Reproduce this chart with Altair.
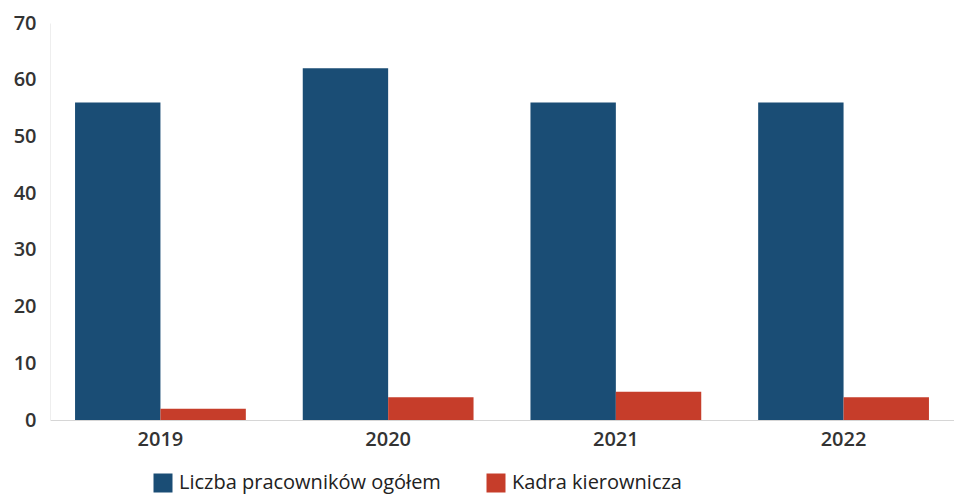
import altair as alt
import pandas as pd

years = ["2019", "2020", "2021", "2022"]
series = ["Liczba pracowników ogółem", "Kadra kierownicza"]
total = [56, 62, 56, 56]
managers = [2, 4, 5, 4]
colors = ["#1a4d75", "#c63d2a"]

rows = []
for i, y in enumerate(years):
    rows.append({"year": y, "series": series[0], "value": total[i], "order": 0})
    rows.append({"year": y, "series": series[1], "value": managers[i], "order": 1})
df = pd.DataFrame(rows)

font = "Open Sans"

chart = alt.Chart(df).mark_bar().encode(
    x=alt.X("year:N", title=None, sort=years,
            scale=alt.Scale(paddingInner=0.25, paddingOuter=0.11),
            axis=alt.Axis(labelAngle=0, ticks=False, domainColor="#d6d6d6",
                          labelFontSize=20, labelFont=font, labelFontWeight=600,
                          labelColor="#333333", labelPadding=9)),
    xOffset=alt.XOffset("series:N", sort=series),
    y=alt.Y("value:Q", title=None,
            scale=alt.Scale(domain=[0, 70]),
            axis=alt.Axis(values=[0, 10, 20, 30, 40, 50, 60, 70], grid=False, ticks=False,
                          domainColor="#eeeeee", labelFontSize=20, labelFont=font,
                          labelFontWeight=600, labelColor="#333333", labelPadding=14)),
    color=alt.Color("series:N", sort=series,
                    scale=alt.Scale(domain=series, range=colors),
                    legend=alt.Legend(title=None, orient="none", direction="horizontal",
                                      legendX=103, legendY=450, symbolType="square",
                                      symbolSize=361, symbolStrokeWidth=0,
                                      labelFontSize=20, labelFont=font, labelColor="#222222",
                                      labelLimit=400, columnPadding=45, labelOffset=6)),
).properties(
    width=904, height=397,
    autosize=alt.AutoSizeParams(type="none"),
    padding={"left": 42, "top": 15, "right": 0, "bottom": 76},
).configure_view(stroke=None)

chart.save("out.html", embed_options={"renderer": "svg", "actions": False})
